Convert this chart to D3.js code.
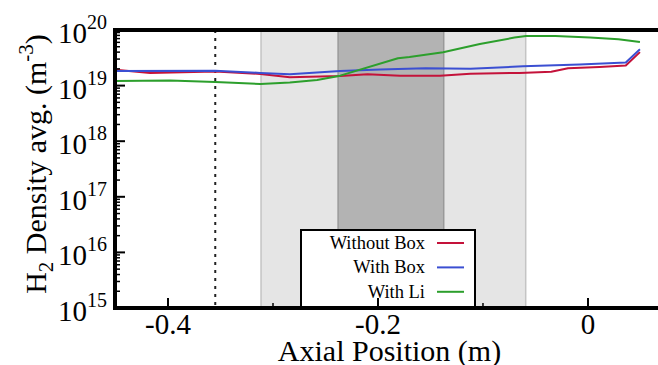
<!DOCTYPE html>
<html>
<head>
<meta charset="utf-8">
<script src="https://cdn.jsdelivr.net/npm/d3@7"></script>
<style>
  html, body { margin: 0; padding: 0; background: #fff; }
  svg { display: block; }
  text { font-family: "Liberation Serif", "Times New Roman", serif; fill: #000; }
</style>
</head>
<body>
<svg id="chart" width="658" height="365"></svg>
<script>
// series: [axial position (m), H2 density (m^-3)]
var withoutBox = [
  [-0.450, 1.93e19], [-0.417, 1.69e19], [-0.355, 1.79e19], [-0.312, 1.62e19],
  [-0.284, 1.41e19], [-0.236, 1.49e19], [-0.210, 1.60e19], [-0.179, 1.51e19],
  [-0.141, 1.51e19], [-0.112, 1.64e19], [-0.065, 1.69e19], [-0.035, 1.78e19],
  [-0.019, 2.05e19], [0.011, 2.16e19], [0.036, 2.29e19], [0.0495, 4.0e19]
];
var withBox = [
  [-0.450, 1.83e19], [-0.355, 1.85e19], [-0.312, 1.69e19], [-0.284, 1.60e19],
  [-0.236, 1.83e19], [-0.198, 1.95e19], [-0.155, 2.05e19], [-0.112, 2.01e19],
  [-0.062, 2.22e19], [-0.008, 2.40e19], [0.036, 2.60e19], [0.0495, 4.5e19]
];
var withLi = [
  [-0.450, 1.21e19], [-0.398, 1.24e19], [-0.355, 1.16e19], [-0.312, 1.07e19],
  [-0.284, 1.14e19], [-0.258, 1.26e19], [-0.236, 1.51e19], [-0.181, 3.10e19],
  [-0.170, 3.27e19], [-0.138, 3.97e19], [-0.103, 5.6e19], [-0.070, 7.3e19],
  [-0.059, 7.8e19], [-0.031, 7.8e19], [0.002, 7.3e19], [0.029, 6.8e19],
  [0.0495, 6.1e19]
];

var seriesNames = ["Without Box", "With Box", "With Li"];
var seriesColors = ["#c4123a", "#3b4fd2", "#2c9f2c"];
var seriesData = [withoutBox, withBox, withLi];

var xTicksMajor = [-0.4, -0.2, 0];
var xTickLabels = ["-0.4", "-0.2", "0"];
var xTicksMinor = [-0.3, -0.1];
var yDecades = [15, 16, 17, 18, 19, 20];

var lightBand = [-0.3114, -0.0593];
var darkBand = [-0.238, -0.1374];
var dottedAt = -0.355;

var margin = {left: 115, top: 30, right: 0, bottom: 57};
var width = 658, height = 365;

var svg = d3.select("#chart");

var x = d3.scaleLinear()
    .domain([-0.4505, 0.0667])
    .range([margin.left, width - margin.right]);

var y = d3.scaleLog()
    .domain([1e15, 1e20])
    .range([height - margin.bottom, margin.top]);

var y0 = y.range()[0], y1 = y.range()[1];

// shaded bands
svg.append("rect")
    .attr("x", x(lightBand[0]))
    .attr("y", y1)
    .attr("width", x(lightBand[1]) - x(lightBand[0]))
    .attr("height", y0 - y1)
    .attr("fill", "#e5e5e5")
    .attr("stroke", "#c4c4c4")
    .attr("stroke-width", 1.5);

svg.append("rect")
    .attr("x", x(darkBand[0]))
    .attr("y", y1)
    .attr("width", x(darkBand[1]) - x(darkBand[0]))
    .attr("height", y0 - y1)
    .attr("fill", "#b3b3b3")
    .attr("stroke", "#999")
    .attr("stroke-width", 1.5);

// dotted marker
svg.append("line")
    .attr("x1", x(dottedAt)).attr("x2", x(dottedAt))
    .attr("y1", y1).attr("y2", y0)
    .attr("stroke", "#222")
    .attr("stroke-width", 2)
    .attr("stroke-dasharray", "3,5");

// series
var line = d3.line()
    .x(function(d) { return x(d[0]); })
    .y(function(d) { return y(d[1]); });

seriesData.forEach(function(data, i) {
  svg.append("path")
      .datum(data)
      .attr("fill", "none")
      .attr("stroke", seriesColors[i])
      .attr("stroke-width", 2)
      .attr("stroke-linejoin", "round")
      .attr("d", line);
});

// legend
var legend = svg.append("g");
legend.append("rect")
    .attr("x", 301).attr("y", 230)
    .attr("width", 174).attr("height", 78)
    .attr("fill", "#fff")
    .attr("stroke", "#000")
    .attr("stroke-width", 2);

seriesNames.forEach(function(name, i) {
  var ly = 243 + i * 24.4;
  legend.append("text")
      .attr("x", 425).attr("y", ly + 6)
      .attr("text-anchor", "end")
      .style("font-size", "18.5px")
      .text(name);
  legend.append("line")
      .attr("x1", 437).attr("x2", 464)
      .attr("y1", ly).attr("y2", ly)
      .attr("stroke", seriesColors[i])
      .attr("stroke-width", 2);
});

// y ticks
var yMinor = [];
yDecades.slice(0, -1).forEach(function(e) {
  for (var k = 2; k < 10; k++) yMinor.push(k * Math.pow(10, e));
});

svg.selectAll("line.ymin").data(yMinor).enter().append("line")
    .attr("x1", margin.left).attr("x2", margin.left + 5)
    .attr("y1", function(d) { return y(d); })
    .attr("y2", function(d) { return y(d); })
    .attr("stroke", "#000").attr("stroke-width", 1.5);

svg.selectAll("line.ymaj").data(yDecades).enter().append("line")
    .attr("x1", margin.left).attr("x2", margin.left + 10)
    .attr("y1", function(d) { return y(Math.pow(10, d)); })
    .attr("y2", function(d) { return y(Math.pow(10, d)); })
    .attr("stroke", "#000").attr("stroke-width", 2);

var yLab = svg.selectAll("text.ylab").data(yDecades).enter().append("text")
    .attr("class", "ylab")
    .attr("x", 107)
    .attr("y", function(d) { return y(Math.pow(10, d)) + 13; })
    .attr("text-anchor", "end")
    .style("font-size", "29px");
yLab.append("tspan").text("10");
yLab.append("tspan")
    .attr("dy", -14)
    .style("font-size", "20px")
    .text(function(d) { return d; });

// x ticks
svg.selectAll("line.xmin").data(xTicksMinor).enter().append("line")
    .attr("x1", function(d) { return x(d); })
    .attr("x2", function(d) { return x(d); })
    .attr("y1", y0).attr("y2", y0 - 5)
    .attr("stroke", "#000").attr("stroke-width", 1.5);

svg.selectAll("line.xmaj").data(xTicksMajor).enter().append("line")
    .attr("x1", function(d) { return x(d); })
    .attr("x2", function(d) { return x(d); })
    .attr("y1", y0).attr("y2", y0 - 10)
    .attr("stroke", "#000").attr("stroke-width", 2);

svg.selectAll("text.xlab").data(xTicksMajor).enter().append("text")
    .attr("x", function(d) { return x(d); })
    .attr("y", 334)
    .attr("text-anchor", "middle")
    .style("font-size", "29px")
    .text(function(d, i) { return xTickLabels[i]; });

// frame: left, bottom, top
svg.append("path")
    .attr("d", "M" + width + "," + y1 + "H" + margin.left + "V" + y0 + "H" + width)
    .attr("fill", "none")
    .attr("stroke", "#000")
    .attr("stroke-width", 4);

// axis titles
svg.append("text")
    .attr("x", (margin.left + width) / 2 + 3)
    .attr("y", 361)
    .attr("text-anchor", "middle")
    .style("font-size", "30px")
    .text("Axial Position (m)");

var yTitle = svg.append("text")
    .attr("transform", "translate(46," + ((y0 + y1) / 2 - 5) + ") rotate(-90)")
    .attr("text-anchor", "middle")
    .style("font-size", "30px");
yTitle.append("tspan").text("H");
yTitle.append("tspan").attr("dy", 7).style("font-size", "21px").text("2");
yTitle.append("tspan").attr("dy", -7).text(" Density avg. (m");
yTitle.append("tspan").attr("dy", -13).style("font-size", "21px").text("-3");
yTitle.append("tspan").attr("dy", 13).text(")");
</script>
</body>
</html>
